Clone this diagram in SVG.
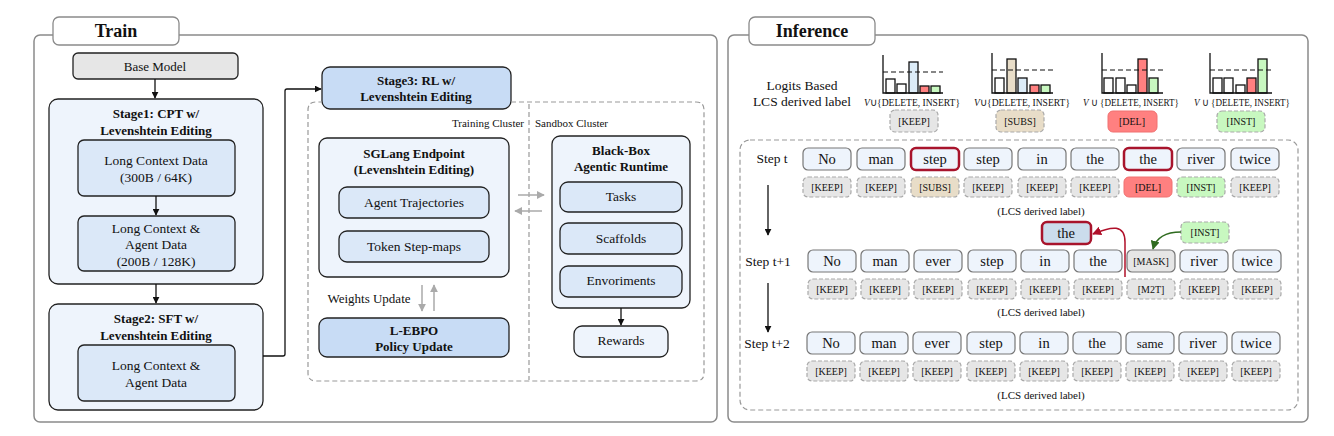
<svg xmlns="http://www.w3.org/2000/svg" width="1334" height="436" viewBox="0 0 1334 436" font-family="'Liberation Serif','Times New Roman',serif">
<defs>
<marker id="ab" viewBox="0 0 10 10" refX="9" refY="5" markerWidth="7" markerHeight="7" orient="auto-start-reverse" markerUnits="userSpaceOnUse"><path d="M0,0 L10,5 L0,10 z" fill="#111"/></marker>
<marker id="ag" viewBox="0 0 10 10" refX="9" refY="5" markerWidth="8" markerHeight="8" orient="auto" markerUnits="userSpaceOnUse"><path d="M0,0 L10,5 L0,10 z" fill="#aaa"/></marker>
<marker id="ar" viewBox="0 0 10 10" refX="9" refY="5" markerWidth="9" markerHeight="9" orient="auto" markerUnits="userSpaceOnUse"><path d="M0,0 L10,5 L0,10 z" fill="#b0102a"/></marker>
<marker id="agr" viewBox="0 0 10 10" refX="9" refY="5" markerWidth="9" markerHeight="9" orient="auto" markerUnits="userSpaceOnUse"><path d="M0,0 L10,5 L0,10 z" fill="#2f6b1f"/></marker>
</defs>
<style>
text{font-family:"Liberation Serif","Times New Roman",serif;fill:#111;text-anchor:middle;dominant-baseline:central}
.panel{fill:#fff;stroke:#8a8a8a;stroke-width:1.5}
.tab{fill:#fff;stroke:#8a8a8a;stroke-width:1.3}
.ttl{font-size:18px;font-weight:bold}
.b{stroke:#222;stroke-width:1.3}
.l1{fill:#eef4fc}
.l2{fill:#dbe8f8}
.l3{fill:#c8dcf5}
.gr{fill:#e6e6e6}
.t13{font-size:13px}
.t14{font-size:13.5px}
.bold{font-weight:bold;font-size:13px}
.dash{fill:none;stroke:#999;stroke-width:1.2;stroke-dasharray:5 3}
.small{font-size:11px}
.w{fill:#eef4fc;stroke:#777;stroke-width:1.2}
.wr{fill:#eef4fc;stroke:#a8142c;stroke-width:2.5}
.wt{font-size:14.5px}
.lab{stroke:#aaa;stroke-width:1.2;stroke-dasharray:4 2}
.keep{fill:#e6e6e6}
.subs{fill:#e8ddc8}
.del{fill:#ff8080}
.inst{fill:#c8f8c0}
.lt{font-size:10px}
.cap{font-size:11px}
.bar{stroke:#111;stroke-width:1.3;fill:#fff}
.ax{stroke:#111;stroke-width:1.3;fill:none}
.hd{stroke:#111;stroke-width:1.2;stroke-dasharray:5 3}
.fx{font-size:10.5px}
.conn{fill:none;stroke:#111;stroke-width:1.3}
.gconn{fill:none;stroke:#aaa;stroke-width:1.5}
</style>

<!-- Panels -->
<g id="train-panel">
<rect class="panel" x="34" y="35" width="683" height="387" rx="6"/>
<rect class="tab" x="53" y="17" width="126" height="28" rx="6"/>
<text class="ttl" x="116" y="31">Train</text>
</g>
<g id="inference-panel">
<rect class="panel" x="728" y="35" width="580" height="387" rx="6"/>
<rect class="tab" x="749" y="17" width="126" height="28" rx="6"/>
<text class="ttl" x="812" y="31">Inference</text>
<rect class="dash" x="740" y="140" width="558" height="270" rx="10"/>
</g>

<!-- Train nodes -->
<g id="base-model">
<rect class="b gr" x="73" y="53" width="165" height="26" rx="5"/>
<text class="t13" x="155" y="66">Base Model</text>
</g>
<g id="stage1">
<rect class="b l1" x="49" y="99" width="214" height="185" rx="9"/>
<text class="bold" x="156" y="113">Stage1: CPT w/</text>
<text class="bold" x="156" y="130">Levenshtein Editing</text>
</g>
<g id="lcd1">
<rect class="b l2" x="78" y="140" width="157" height="56" rx="6"/>
<text class="t14" x="156" y="160">Long Context Data</text>
<text class="t14" x="156" y="177">(300B / 64K)</text>
</g>
<g id="lcd2">
<rect class="b l2" x="78" y="216" width="157" height="55" rx="6"/>
<text class="t14" x="156" y="228">Long Context &amp;</text>
<text class="t14" x="156" y="244">Agent Data</text>
<text class="t14" x="156" y="261">(200B / 128K)</text>
</g>
<g id="stage2">
<rect class="b l1" x="49" y="304" width="214" height="106" rx="9"/>
<text class="bold" x="156" y="318">Stage2: SFT w/</text>
<text class="bold" x="156" y="335">Levenshtein Editing</text>
</g>
<g id="lcd3">
<rect class="b l2" x="78" y="345" width="157" height="56" rx="6"/>
<text class="t14" x="156" y="365">Long Context &amp;</text>
<text class="t14" x="156" y="382">Agent Data</text>
</g>
<g id="stage3">
<rect class="b l3" x="322" y="67" width="189" height="42" rx="8"/>
<text class="bold" x="416" y="80">Stage3: RL w/</text>
<text class="bold" x="416" y="96">Levenshtein Editing</text>
</g>
<g id="clusters">
<path class="dash" d="M511,102 L696,102 Q704,102 704,110 L704,373 Q704,381 696,381 L316,381 Q308,381 308,373 L308,110 Q308,102 316,102 L322,102"/>
<line class="dash" x1="529" y1="104" x2="529" y2="380"/>
<text class="small" x="524" y="123" style="text-anchor:end">Training Cluster</text>
<text class="small" x="535" y="123" style="text-anchor:start">Sandbox Cluster</text>
</g>
<g id="sglang">
<rect class="b l1" x="319" y="138" width="190" height="139" rx="8"/>
<text class="bold" x="414" y="153">SGLang Endpoint</text>
<text class="bold" x="414" y="169">(Levenshtein Editing)</text>
</g>
<g id="agent-traj">
<rect class="b l2" x="339" y="187" width="150" height="31" rx="8"/>
<text class="t14" x="414" y="202">Agent Trajectories</text>
</g>
<g id="token-step">
<rect class="b l2" x="339" y="231" width="150" height="31" rx="8"/>
<text class="t14" x="414" y="246">Token Step-maps</text>
</g>
<g id="lebpo">
<rect class="b l3" x="319" y="318" width="190" height="39" rx="8"/>
<text class="bold" x="414" y="330">L-EBPO</text>
<text class="bold" x="414" y="346">Policy Update</text>
</g>
<g id="weights-label">
<text class="t13" x="369" y="298">Weights Update</text>
</g>
<g id="blackbox">
<rect class="b l1" x="552" y="136" width="138" height="172" rx="8"/>
<text class="bold" x="621" y="150">Black-Box</text>
<text class="bold" x="621" y="166">Agentic Runtime</text>
</g>
<g id="tasks">
<rect class="b l2" x="560" y="182" width="122" height="30" rx="8"/>
<text class="t14" x="621" y="196">Tasks</text>
</g>
<g id="scaffolds">
<rect class="b l2" x="560" y="223" width="122" height="31" rx="8"/>
<text class="t14" x="621" y="238">Scaffolds</text>
</g>
<g id="envs">
<rect class="b l2" x="560" y="266" width="122" height="31" rx="8"/>
<text class="t14" x="621" y="280">Envoriments</text>
</g>
<g id="rewards">
<rect class="b l1" x="574" y="326" width="94" height="31" rx="8"/>
<text class="t14" x="621" y="340">Rewards</text>
</g>

<!-- Inference: charts -->
<g id="logits-label">
<text class="t14" x="802" y="85">Logits Based</text>
<text class="t14" x="802" y="101">LCS derived label</text>
</g>
<g id="chart-keep">
<rect class="bar" x="886" y="79" width="9" height="14"/>
<rect class="bar" x="897" y="84" width="9" height="9"/>
<rect class="bar" x="909" y="62" width="9" height="31" style="fill:#dcecf8"/>
<rect class="bar" x="920" y="86" width="9" height="7" style="fill:#ff8080"/>
<rect class="bar" x="931" y="86" width="9" height="7" style="fill:#c8f8c0"/>
<line class="hd" x1="883" y1="72" x2="943" y2="72"/>
<path class="ax" d="M883,55 L883,93 L943,93"/>
<text class="fx" x="912" y="102" textLength="96" lengthAdjust="spacingAndGlyphs"><tspan font-style="italic">V</tspan>∪{DELETE, INSERT}</text>
<rect class="lab keep" x="890" y="110" width="48" height="22" rx="5"/>
<text class="lt" x="914" y="121">[KEEP]</text>
</g>
<g id="chart-subs">
<rect class="bar" x="995" y="78" width="9" height="15"/>
<rect class="bar" x="1007" y="59" width="9" height="34" style="fill:#e8ddc8"/>
<rect class="bar" x="1018" y="78" width="9" height="15" style="fill:#dcecf8"/>
<rect class="bar" x="1030" y="85" width="9" height="8" style="fill:#ff8080"/>
<rect class="bar" x="1041" y="85" width="9" height="8" style="fill:#c8f8c0"/>
<line class="hd" x1="992" y1="70" x2="1053" y2="70"/>
<path class="ax" d="M992,53 L992,93 L1053,93"/>
<text class="fx" x="1022" y="102" textLength="96" lengthAdjust="spacingAndGlyphs"><tspan font-style="italic">V</tspan>∪{DELETE, INSERT}</text>
<rect class="lab subs" x="996" y="110" width="48" height="22" rx="5"/>
<text class="lt" x="1020" y="121">[SUBS]</text>
</g>
<g id="chart-del">
<rect class="bar" x="1104" y="78" width="9" height="15"/>
<rect class="bar" x="1116" y="78" width="9" height="15"/>
<rect class="bar" x="1127" y="85" width="9" height="8"/>
<rect class="bar" x="1138" y="59" width="9" height="34" style="fill:#ff8080"/>
<rect class="bar" x="1149" y="78" width="9" height="15" style="fill:#c8f8c0"/>
<line class="hd" x1="1102" y1="70" x2="1163" y2="70"/>
<path class="ax" d="M1102,53 L1102,93 L1163,93"/>
<text class="fx" x="1131" y="102" textLength="96" lengthAdjust="spacingAndGlyphs"><tspan font-style="italic">V</tspan> ∪ {DELETE, INSERT}</text>
<rect x="1108" y="111" width="49" height="21" rx="5" fill="#ff8080" stroke="#f07070" stroke-width="1"/>
<text class="lt" x="1132" y="121">[DEL]</text>
</g>
<g id="chart-inst">
<rect class="bar" x="1213" y="78" width="9" height="15"/>
<rect class="bar" x="1224" y="78" width="9" height="15"/>
<rect class="bar" x="1236" y="85" width="9" height="8"/>
<rect class="bar" x="1247" y="78" width="9" height="15" style="fill:#ff8080"/>
<rect class="bar" x="1258" y="59" width="9" height="34" style="fill:#c8f8c0"/>
<line class="hd" x1="1210" y1="70" x2="1272" y2="70"/>
<path class="ax" d="M1210,53 L1210,93 L1272,93"/>
<text class="fx" x="1242" y="102" textLength="96" lengthAdjust="spacingAndGlyphs"><tspan font-style="italic">V</tspan> ∪ {DELETE, INSERT}</text>
<rect class="lab inst" x="1217" y="111" width="48" height="21" rx="5"/>
<text class="lt" x="1241" y="121">[INST]</text>
</g>

<!-- Step t -->
<g id="step-t">
<text class="t14" x="772" y="158">Step t</text>
<rect class="w" x="803" y="148" width="48" height="22" rx="5"/><text class="wt" x="827" y="159">No</text>
<rect class="w" x="857" y="148" width="48" height="22" rx="5"/><text class="wt" x="881" y="159">man</text>
<rect class="wr" x="911" y="148" width="48" height="22" rx="5"/><text class="wt" x="935" y="159">step</text>
<rect class="w" x="964" y="148" width="48" height="22" rx="5"/><text class="wt" x="988" y="159">step</text>
<rect class="w" x="1018" y="148" width="48" height="22" rx="5"/><text class="wt" x="1042" y="159">in</text>
<rect class="w" x="1071" y="148" width="48" height="22" rx="5"/><text class="wt" x="1095" y="159">the</text>
<rect class="wr" x="1124" y="148" width="48" height="22" rx="5"/><text class="wt" x="1148" y="159">the</text>
<rect class="w" x="1177" y="148" width="48" height="22" rx="5"/><text class="wt" x="1201" y="159">river</text>
<rect class="w" x="1231" y="148" width="48" height="22" rx="5"/><text class="wt" x="1255" y="159">twice</text>
</g>
<g id="labels-t">
<rect class="lab keep" x="803" y="177" width="48" height="20" rx="5"/><text class="lt" x="827" y="187">[KEEP]</text>
<rect class="lab keep" x="857" y="177" width="48" height="20" rx="5"/><text class="lt" x="881" y="187">[KEEP]</text>
<rect class="lab subs" x="911" y="177" width="48" height="20" rx="5"/><text class="lt" x="935" y="187">[SUBS]</text>
<rect class="lab keep" x="964" y="177" width="48" height="20" rx="5"/><text class="lt" x="988" y="187">[KEEP]</text>
<rect class="lab keep" x="1018" y="177" width="48" height="20" rx="5"/><text class="lt" x="1042" y="187">[KEEP]</text>
<rect class="lab keep" x="1071" y="177" width="48" height="20" rx="5"/><text class="lt" x="1095" y="187">[KEEP]</text>
<rect x="1124" y="177" width="48" height="20" rx="5" fill="#ff8080" stroke="#f07070" stroke-width="1"/><text class="lt" x="1148" y="187">[DEL]</text>
<rect class="lab inst" x="1177" y="177" width="48" height="20" rx="5"/><text class="lt" x="1201" y="187">[INST]</text>
<rect class="lab keep" x="1231" y="177" width="48" height="20" rx="5"/><text class="lt" x="1255" y="187">[KEEP]</text>
<text class="cap" x="1041" y="211">(LCS derived label)</text>
</g>

<!-- Step t+1 -->
<g id="float-the">
<rect x="1042" y="222" width="49" height="22" rx="5" fill="#cbdcec" stroke="#a8142c" stroke-width="2.5"/>
<text class="wt" x="1066" y="233">the</text>
</g>
<g id="float-inst">
<rect class="lab inst" x="1181" y="222" width="48" height="21" rx="5"/>
<text class="lt" x="1205" y="232">[INST]</text>
</g>
<g id="step-t1">
<text class="t14" x="768" y="261">Step t+1</text>
<rect class="w" x="808" y="250" width="48" height="22" rx="5"/><text class="wt" x="832" y="261">No</text>
<rect class="w" x="861" y="250" width="48" height="22" rx="5"/><text class="wt" x="885" y="261">man</text>
<rect class="w" x="914" y="250" width="48" height="22" rx="5"/><text class="wt" x="938" y="261">ever</text>
<rect class="w" x="968" y="250" width="48" height="22" rx="5"/><text class="wt" x="992" y="261">step</text>
<rect class="w" x="1021" y="250" width="48" height="22" rx="5"/><text class="wt" x="1045" y="261">in</text>
<rect class="w" x="1074" y="250" width="48" height="22" rx="5"/><text class="wt" x="1098" y="261">the</text>
<rect x="1127" y="250" width="48" height="22" rx="5" fill="#e6e6e6" stroke="#777" stroke-width="1.2"/><text class="lt" x="1151" y="261">[MASK]</text>
<rect class="w" x="1180" y="250" width="48" height="22" rx="5"/><text class="wt" x="1204" y="261">river</text>
<rect class="w" x="1233" y="250" width="48" height="22" rx="5"/><text class="wt" x="1257" y="261">twice</text>
</g>
<g id="labels-t1">
<rect class="lab keep" x="808" y="279" width="48" height="20" rx="5"/><text class="lt" x="832" y="289">[KEEP]</text>
<rect class="lab keep" x="861" y="279" width="48" height="20" rx="5"/><text class="lt" x="885" y="289">[KEEP]</text>
<rect class="lab keep" x="914" y="279" width="48" height="20" rx="5"/><text class="lt" x="938" y="289">[KEEP]</text>
<rect class="lab keep" x="968" y="279" width="48" height="20" rx="5"/><text class="lt" x="992" y="289">[KEEP]</text>
<rect class="lab keep" x="1021" y="279" width="48" height="20" rx="5"/><text class="lt" x="1045" y="289">[KEEP]</text>
<rect class="lab keep" x="1074" y="279" width="48" height="20" rx="5"/><text class="lt" x="1098" y="289">[KEEP]</text>
<rect class="lab keep" x="1127" y="279" width="48" height="20" rx="5"/><text class="lt" x="1151" y="289">[M2T]</text>
<rect class="lab keep" x="1180" y="279" width="48" height="20" rx="5"/><text class="lt" x="1204" y="289">[KEEP]</text>
<rect class="lab keep" x="1233" y="279" width="48" height="20" rx="5"/><text class="lt" x="1257" y="289">[KEEP]</text>
<text class="cap" x="1041" y="312">(LCS derived label)</text>
</g>

<!-- Step t+2 -->
<g id="step-t2">
<text class="t14" x="767" y="343">Step t+2</text>
<rect class="w" x="807" y="332" width="48" height="22" rx="5"/><text class="wt" x="831" y="343">No</text>
<rect class="w" x="860" y="332" width="48" height="22" rx="5"/><text class="wt" x="884" y="343">man</text>
<rect class="w" x="913" y="332" width="48" height="22" rx="5"/><text class="wt" x="937" y="343">ever</text>
<rect class="w" x="967" y="332" width="48" height="22" rx="5"/><text class="wt" x="991" y="343">step</text>
<rect class="w" x="1020" y="332" width="48" height="22" rx="5"/><text class="wt" x="1044" y="343">in</text>
<rect class="w" x="1073" y="332" width="48" height="22" rx="5"/><text class="wt" x="1097" y="343">the</text>
<rect class="w" x="1126" y="332" width="48" height="22" rx="5"/><text class="t13" x="1150" y="343">same</text>
<rect class="w" x="1179" y="332" width="48" height="22" rx="5"/><text class="wt" x="1203" y="343">river</text>
<rect class="w" x="1232" y="332" width="48" height="22" rx="5"/><text class="wt" x="1256" y="343">twice</text>
</g>
<g id="labels-t2">
<rect class="lab keep" x="807" y="361" width="48" height="20" rx="5"/><text class="lt" x="831" y="371">[KEEP]</text>
<rect class="lab keep" x="860" y="361" width="48" height="20" rx="5"/><text class="lt" x="884" y="371">[KEEP]</text>
<rect class="lab keep" x="913" y="361" width="48" height="20" rx="5"/><text class="lt" x="937" y="371">[KEEP]</text>
<rect class="lab keep" x="967" y="361" width="48" height="20" rx="5"/><text class="lt" x="991" y="371">[KEEP]</text>
<rect class="lab keep" x="1020" y="361" width="48" height="20" rx="5"/><text class="lt" x="1044" y="371">[KEEP]</text>
<rect class="lab keep" x="1073" y="361" width="48" height="20" rx="5"/><text class="lt" x="1097" y="371">[KEEP]</text>
<rect class="lab keep" x="1126" y="361" width="48" height="20" rx="5"/><text class="lt" x="1150" y="371">[KEEP]</text>
<rect class="lab keep" x="1179" y="361" width="48" height="20" rx="5"/><text class="lt" x="1203" y="371">[KEEP]</text>
<rect class="lab keep" x="1232" y="361" width="48" height="20" rx="5"/><text class="lt" x="1256" y="371">[KEEP]</text>
<text class="cap" x="1041" y="395">(LCS derived label)</text>
</g>

<!-- Connectors -->
<g id="connectors">
<line class="conn" x1="155" y1="79" x2="155" y2="98" marker-end="url(#ab)"/>
<line class="conn" x1="156" y1="196" x2="156" y2="215" marker-end="url(#ab)"/>
<line class="conn" x1="156" y1="284" x2="156" y2="303" marker-end="url(#ab)"/>
<path class="conn" d="M263,356 L283,356 Q285,356 285,354 L285,91 Q285,89 287,89 L321,89" marker-end="url(#ab)"/>
<line class="gconn" x1="518" y1="195" x2="544" y2="195" marker-end="url(#ag)"/>
<line class="gconn" x1="542" y1="211" x2="515" y2="211" marker-end="url(#ag)"/>
<line class="gconn" x1="422" y1="285" x2="422" y2="311" marker-end="url(#ag)"/>
<line class="gconn" x1="434" y1="311" x2="434" y2="285" marker-end="url(#ag)"/>
<line class="conn" x1="621" y1="308" x2="621" y2="325" marker-end="url(#ab)"/>
<line class="conn" x1="768" y1="185" x2="768" y2="235" marker-end="url(#ab)"/>
<line class="conn" x1="768" y1="283" x2="768" y2="332" marker-end="url(#ab)"/>
<path d="M1125,277 L1125,242 C1125,224 1112,226 1093,234" fill="none" stroke="#b0102a" stroke-width="1.5" marker-end="url(#ar)"/>
<path d="M1181,232 C1166,232 1156,238 1153,249" fill="none" stroke="#2f6b1f" stroke-width="1.5" marker-end="url(#agr)"/>
</g>
</svg>
